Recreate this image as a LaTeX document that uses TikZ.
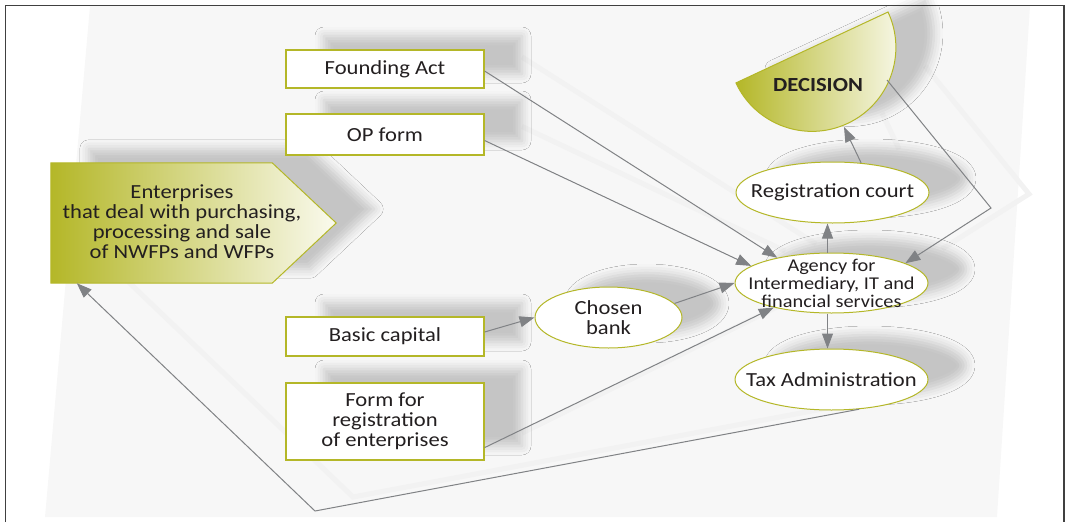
\documentclass[tikz,border=0pt]{standalone}
\usepackage{fontspec}
\setmainfont{Carlito}[FakeStretch=1.13]
\usetikzlibrary{arrows.meta,shapes.geometric,shadows.blur}
\definecolor{olv}{RGB}{180,183,40}
\definecolor{olvlight}{RGB}{250,250,238}
\definecolor{arrg}{RGB}{128,130,133}
\definecolor{txt}{RGB}{35,31,32}
\begin{document}
\begin{tikzpicture}[x=1pt,y=1pt,
  shad/.style={blur shadow={shadow xshift=38pt, shadow yshift=14pt, shadow blur radius=9pt, shadow opacity=20}},
  box/.style={draw=olv, line width=1.2pt, fill=white, minimum width=198pt, inner sep=0pt, align=center,
    font=\fontsize{20}{20}\selectfont, text=txt, shad},
  oval/.style={ellipse, draw=olv, line width=1pt, fill=white, inner xsep=-20pt, inner ysep=-10pt, align=center,
    font=\fontsize{20}{20}\selectfont, text=txt, shad},
  conn/.style={draw=arrg, line width=1pt, -{Triangle[length=15pt,width=11pt]}},
  connshad/.style={draw=black!5, line width=5pt},
  ]
\useasboundingbox (0,0) rectangle (1065,-522);
\fill[black!3] (90,-6) -- (1030,-6) -- (997,-517) -- (45,-517) -- cycle;
\draw[line width=1.2pt, black!75] (5.5,-522) -- (5.5,-5.5) -- (1064,-5.5) -- (1064,-522);

% faint shadows of the connectors
\draw[connshad] (522,-57) -- (816,-244);
\draw[connshad] (522,-126.5) -- (785,-251);
\draw[connshad] (522,-318) -- (573,-303.5);
\draw[connshad] (717,-289) -- (773,-269);
\draw[connshad] (522,-433) -- (803,-294);
\draw[connshad] (899,-149) -- (882,-113);
\draw[connshad] (925,-66) -- (1029,-194) -- (942,-249);
\draw[connshad] (897,-395) -- (353,-497) -- (115,-269);

% enterprises
\node[minimum width=221pt, minimum height=120pt, inner sep=0pt] (ent) at (161.5,-223) {};
\shade[left color=olv, right color=olvlight, draw=olv, line width=1pt, shad]
  (ent.north west) -- (ent.north east) -- ([xshift=64pt]ent.east) -- (ent.south east) -- (ent.south west) -- cycle;
\node[font=\fontsize{20}{20}\selectfont, align=center, text=txt] (entt) at (182,-222)
  {Enterprises\\that deal with purchasing,\\processing and sale\\of NWFPs and WFPs};

% decision
\shade[left color=olv, right color=olvlight, draw=olv, line width=1pt, shad]
  (888,-12) arc[start angle=25, end angle=-155, radius=83.9pt] -- cycle;
\node[font=\fontsize{20}{20}\selectfont\bfseries, text=txt] (dec) at (818,-85) {DECISION};
\coordinate (dectip) at (844,-127);
\coordinate (decr) at (887,-80);
\coordinate (crn) at (991,-208);
\coordinate (crb) at (315,-511);

% boxes
\node[box, minimum height=38pt] (fa) at (385,-69) {Founding Act};
\node[box, minimum height=41pt] (op) at (385,-134.5) {OP form};
\node[box, minimum height=39pt] (bc) at (385,-336.5) {Basic capital};
\node[box, minimum height=77pt] (fr) at (385,-421.5) {Form for\\registration\\of enterprises};

% ovals
\node[oval, minimum width=147pt, minimum height=61pt] (bank) at (608.5,-317.5) {Chosen\\bank};
\node[oval, minimum width=193pt, minimum height=60pt, font=\fontsize{18}{18}\selectfont] (ag) at (831.5,-283)
  {Agency for\\Intermediary, IT and\\financial services};
\node[oval, minimum width=193pt, minimum height=61pt] (rc) at (832.5,-192.5) {Registration court};
\node[oval, minimum width=193pt, minimum height=61pt] (tax) at (831.5,-379.5) {Tax Administration};

% connectors
\draw[conn] ([yshift=-2pt]fa.east) -- (ag.155);
\draw[conn] ([yshift=-6pt]op.east) -- (ag.168);
\draw[conn] ([yshift=4.5pt]bc.east) -- (bank.west);
\draw[conn] (bank.12) -- (ag.180);
\draw[conn] ([yshift=13pt]fr.south east) -- (ag.203);
\draw[conn] ([xshift=-4pt]ag.north) -- ([xshift=-5pt]rc.south);
\draw[conn] ([xshift=-4pt]ag.south) -- ([xshift=-4pt]tax.north);
\draw[conn] (rc.46) -- (dectip);
\draw[conn] (decr) -- (crn) -- (ag.15);
\draw[conn] (tax.-47) -- (crb) -- ([xshift=26pt]ent.south west);
\end{tikzpicture}
\end{document}
